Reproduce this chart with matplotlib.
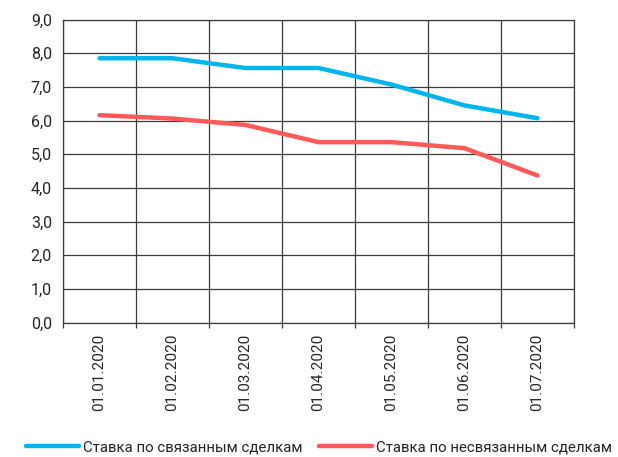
import matplotlib
matplotlib.use("Agg")
import matplotlib.pyplot as plt
import numpy as np

categories = ["01.01.2020", "01.02.2020", "01.03.2020", "01.04.2020",
              "01.05.2020", "01.06.2020", "01.07.2020"]
linked = [7.85, 7.85, 7.56, 7.56, 7.07, 6.45, 6.07]
unlinked = [6.16, 6.06, 5.87, 5.36, 5.36, 5.18, 4.37]
series_names = ["Ставка по связанным сделкам", "Ставка по несвязанным сделкам"]
yticks = np.arange(0, 10, 1)

plt.rcParams['font.family'] = ['Roboto', 'DejaVu Sans']
W, H = 618, 457
fig = plt.figure(figsize=(W / 100, H / 100), dpi=100)
ax = fig.add_axes([63 / W, (H - 322.7) / H, (574 - 63) / W, (322.7 - 19.5) / H])

x = np.arange(len(categories))
ax.plot(x, linked, color="#00B4EC", lw=3.2, solid_capstyle="round", solid_joinstyle="round",
        label=series_names[0], zorder=3)
ax.plot(x, unlinked, color="#FF5A5A", lw=3.2, solid_capstyle="round", solid_joinstyle="round",
        label=series_names[1], zorder=3)

ax.set_xlim(-0.5, len(categories) - 0.5)
ax.set_ylim(0, 9)
ax.set_yticks(yticks)
ax.set_yticklabels([f"{v:.1f}".replace(".", ",") for v in yticks])
ax.set_xticks(x)
ax.set_xticklabels(categories, rotation=90)
ax.set_xticks(np.arange(-0.5, len(categories), 1), minor=True)

gc = "#3c3c3c"
ax.grid(True, which="major", axis="y", color=gc, lw=0.9)
ax.grid(True, which="minor", axis="x", color=gc, lw=0.9)
ax.set_axisbelow(True)
for s in ax.spines.values():
    s.set_color(gc)
    s.set_linewidth(0.9)

ax.tick_params(axis="y", which="both", length=0, pad=8, labelsize=11.5, labelcolor="#262626")
ax.tick_params(axis="x", which="major", length=0, pad=8, labelsize=11, labelcolor="#262626")
ax.tick_params(axis="x", which="minor", length=3.5, width=0.9, color=gc, direction="out")

fig.legend(loc="center", bbox_to_anchor=(319 / W, 1 - 447 / H), ncol=2, frameon=False,
           fontsize=10.8, handlelength=3.5, handletextpad=0.3, columnspacing=1.1,
           labelcolor="#262626", borderpad=0.1)

fig.savefig("out.png", dpi=100)
